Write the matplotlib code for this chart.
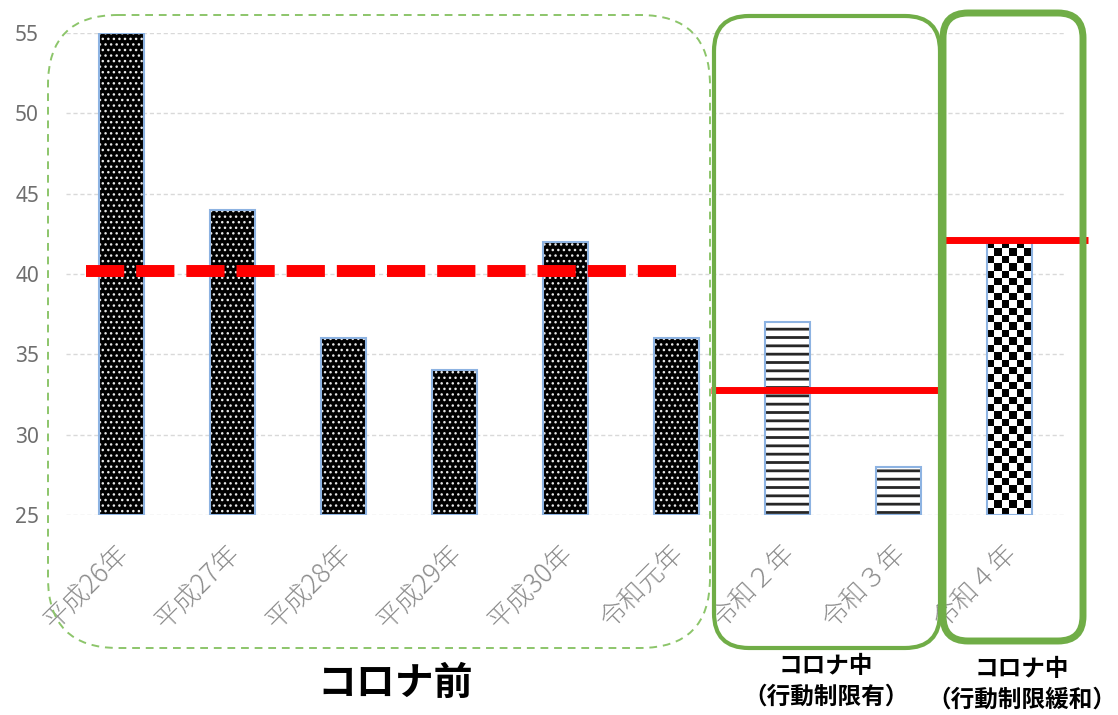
import numpy as np
import matplotlib
matplotlib.use("Agg")
import matplotlib.pyplot as plt
from matplotlib.patches import FancyBboxPatch
from matplotlib.transforms import Affine2D, ScaledTranslation

plt.rcParams['font.family'] = ['Noto Sans CJK JP', 'DejaVu Sans']

# ---- data ----
categories = ["平成26年", "平成27年", "平成28年", "平成29年", "平成30年",
              "令和元年", "令和２年", "令和３年", "令和４年"]
values = [55, 44, 36, 34, 42, 36, 37, 28, 42]
pattern_group = ["pre", "pre", "pre", "pre", "pre", "pre", "mid", "mid", "ease"]
baseline = 25
yticks = [25, 30, 35, 40, 45, 50, 55]
# group average lines: (value, start category pos, end category pos)
avg_values = [40.2, 32.8, 42.1]
avg_spans = [(-0.32, 5.04), (5.31, 7.38), (7.38, 8.71)]
group_titles = ["コロナ前", "コロナ中\n（行動制限有）", "コロナ中\n（行動制限緩和）"]

W, H = 1118, 715
fig = plt.figure(figsize=(W / 100, H / 100), dpi=100)
ax = fig.add_axes([66 / W, 1 - 515 / H, (1065 - 66) / W, (515 - 33) / H])

x = np.arange(len(categories))
bw = 0.4

for xi, v, g in zip(x, values, pattern_group):
    h = v - baseline
    if g == "pre":
        with plt.rc_context({'hatch.linewidth': 1.0}):
            ax.bar(xi, h, bw, bottom=baseline, color="black", edgecolor="#E8E8E8",
                   hatch="...", linewidth=0, zorder=2)
    elif g == "mid":
        with plt.rc_context({'hatch.linewidth': 2.0}):
            ax.bar(xi, h, bw, bottom=baseline, color="white", edgecolor="#262626",
                   hatch="--", linewidth=0, zorder=2)
    else:
        b = ax.bar(xi, h, bw, bottom=baseline, color="white", linewidth=0, zorder=2)
        nx, ny = 6, int(round(h * 16.07 / 7.3))
        checker = (np.add.outer(np.arange(ny), np.arange(nx)) % 2).astype(float)
        im = ax.imshow(checker, cmap="gray", extent=(xi - bw / 2, xi + bw / 2, baseline, v),
                       aspect="auto", interpolation="nearest", zorder=2.1, origin="lower")
        im.set_clip_path(b.patches[0])
    ax.bar(xi, h, bw, bottom=baseline, fill=False, edgecolor="#8DB3E2",
           linewidth=1.5, zorder=3)

ax.set_xlim(-0.5, len(categories) - 0.5)
ax.set_ylim(baseline, 55)
ax.set_yticks(yticks)
ax.set_xticks(x)
ax.set_xticklabels(categories, rotation=45, ha="right", va="top",
                   rotation_mode="anchor", color="#8C8C8C", fontsize=19)
ax.tick_params(axis="x", length=0, pad=17)
ax.tick_params(axis="y", length=0, pad=28, labelcolor="#6E6E6E", labelsize=15)
for lab in ax.get_yticklabels():
    lab.set_family(['Noto Sans', 'DejaVu Sans'])
    lab.set_horizontalalignment("center")
shift = ScaledTranslation(-7 / 100, 0, fig.dpi_scale_trans)
for lab in ax.get_xticklabels():
    lab.set_fontweight("light")
    lab.set_transform(lab.get_transform() + shift)
for s in ax.spines.values():
    s.set_visible(False)
ax.yaxis.grid(True, color="#D9D9D9", linestyle=(0, (3, 2)), linewidth=1.0, zorder=0)
ax.set_axisbelow(True)

# average lines
for i, (val, (x0, x1)) in enumerate(zip(avg_values, avg_spans)):
    if i == 0:
        ax.plot([x0, x1], [val, val], color="#FF0000", linewidth=8.6,
                dashes=(3.2, 1.0), solid_capstyle="butt", dash_capstyle="butt",
                zorder=4, clip_on=False)
    else:
        ax.plot([x0, x1], [val, val], color="#FF0000", linewidth=5,
                solid_capstyle="butt", zorder=4, clip_on=False)

# rounded boxes in pixel coords (top-left origin)
pix = Affine2D().scale(1, -1).translate(0, H)
boxes = [
    dict(x0=48, y0=15, x1=710, y1=648, r=70, lw=1.4, ls=(0, (4, 3)), col="#8CC56A"),
    dict(x0=714, y0=16, x1=940, y1=648, r=35, lw=3.0, ls="-", col="#70AD47"),
    dict(x0=943, y0=13, x1=1083, y1=641, r=25, lw=5.0, ls="-", col="#70AD47"),
]
for bx in boxes:
    p = FancyBboxPatch((bx["x0"], bx["y0"]), bx["x1"] - bx["x0"], bx["y1"] - bx["y0"],
                       boxstyle=f"round,pad=0,rounding_size={bx['r']}",
                       transform=pix, fill=False, edgecolor=bx["col"],
                       linewidth=bx["lw"], linestyle=bx["ls"], zorder=5)
    fig.add_artist(p)

fig.text(395 / W, 1 - 683 / H, group_titles[0], ha="center", va="center",
         fontsize=28, fontweight="bold", color="black")
fig.text(826 / W, 1 - 681 / H, group_titles[1], ha="center", va="center",
         fontsize=17, fontweight="bold", color="black", linespacing=1.35)
fig.text(1022 / W, 1 - 684 / H, group_titles[2], ha="center", va="center",
         fontsize=17, fontweight="bold", color="black", linespacing=1.35)

fig.savefig("out.png", dpi=100)
